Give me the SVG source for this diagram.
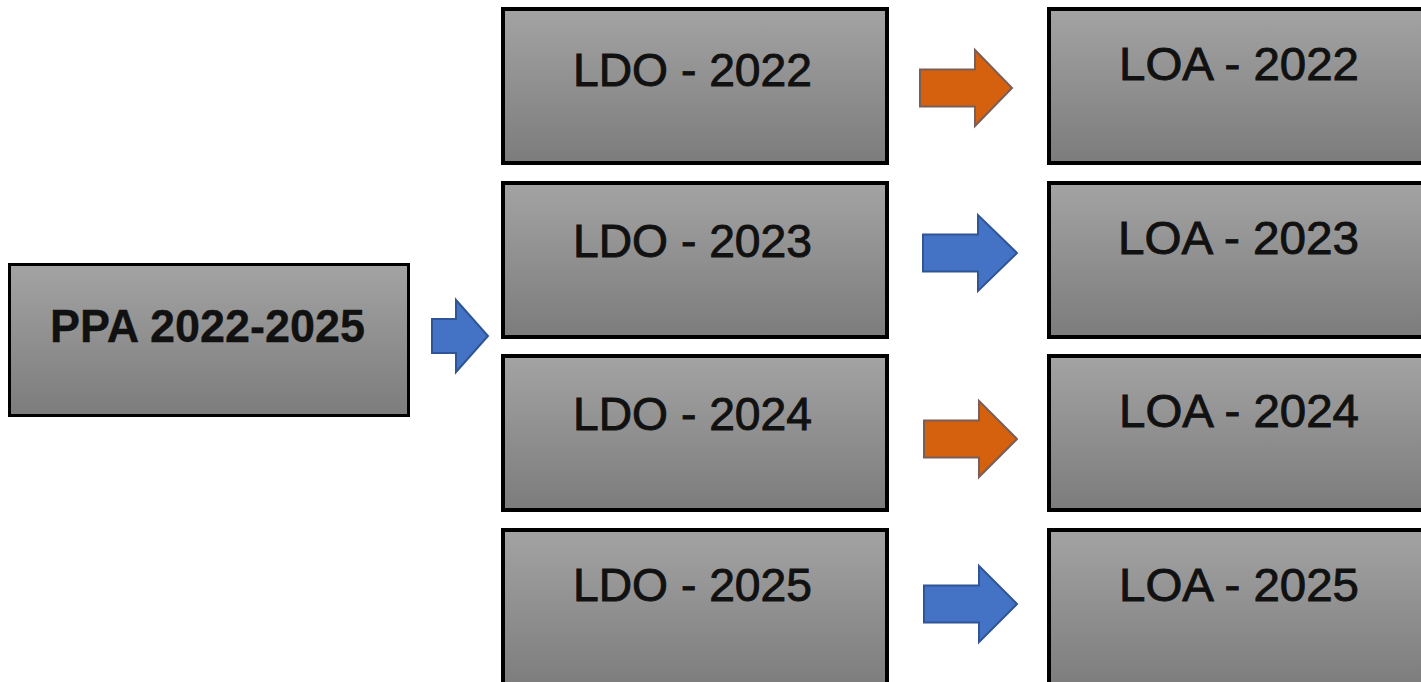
<svg xmlns="http://www.w3.org/2000/svg" width="1421" height="682" viewBox="0 0 1421 682">
  <style>
    .box { fill: url(#boxGrad); stroke: #000; stroke-width: 4; }
    .lbl { font-family: "Liberation Sans", Arial, sans-serif; font-weight: normal; font-size: 46px; fill: #111; stroke: #111; stroke-width: 0.9; }
    .blue { fill: #4472c4; stroke: #2f5597; stroke-width: 2; stroke-linejoin: miter; }
    .orange { fill: #d5600e; stroke: #7a5e58; stroke-width: 2; stroke-linejoin: miter; }
  </style>
  <defs>
    <linearGradient id="boxGrad" x1="0" y1="0" x2="0" y2="1">
      <stop offset="0" stop-color="#a3a3a3"/>
      <stop offset="1" stop-color="#7c7c7c"/>
    </linearGradient>
  </defs>
  <rect width="1421" height="682" fill="#ffffff"/>

  <g id="ppa">
    <rect class="box" x="9.5" y="264.5" width="399" height="151" style="stroke-width:3"/>
    <text class="lbl" x="50" y="342" font-size="43" style="font-weight:bold;stroke-width:0.3" textLength="315" lengthAdjust="spacingAndGlyphs">PPA 2022-2025</text>
  </g>

  <g id="ldo2022">
    <rect class="box" x="503" y="9" width="384" height="154"/>
    <text class="lbl" x="573" y="86" textLength="239" lengthAdjust="spacingAndGlyphs">LDO - 2022</text>
  </g>
  <g id="ldo2023">
    <rect class="box" x="503" y="183" width="384" height="154"/>
    <text class="lbl" x="573" y="257" textLength="239" lengthAdjust="spacingAndGlyphs">LDO - 2023</text>
  </g>
  <g id="ldo2024">
    <rect class="box" x="503" y="356" width="384" height="154"/>
    <text class="lbl" x="573" y="430" textLength="239" lengthAdjust="spacingAndGlyphs">LDO - 2024</text>
  </g>
  <g id="ldo2025">
    <rect class="box" x="503" y="530" width="384" height="160"/>
    <text class="lbl" x="573" y="601" textLength="239" lengthAdjust="spacingAndGlyphs">LDO - 2025</text>
  </g>

  <g id="loa2022">
    <rect class="box" x="1049" y="9" width="390" height="154"/>
    <text class="lbl" x="1119" y="80" textLength="240" lengthAdjust="spacingAndGlyphs">LOA - 2022</text>
  </g>
  <g id="loa2023">
    <rect class="box" x="1049" y="183" width="390" height="154"/>
    <text class="lbl" x="1118" y="254" textLength="241" lengthAdjust="spacingAndGlyphs">LOA - 2023</text>
  </g>
  <g id="loa2024">
    <rect class="box" x="1049" y="356" width="390" height="154"/>
    <text class="lbl" x="1119" y="427" textLength="240" lengthAdjust="spacingAndGlyphs">LOA - 2024</text>
  </g>
  <g id="loa2025">
    <rect class="box" x="1049" y="530" width="390" height="160"/>
    <text class="lbl" x="1119" y="601" textLength="240" lengthAdjust="spacingAndGlyphs">LOA - 2025</text>
  </g>

  <g id="connectors">
    <polygon class="blue" points="432,319 456,319 456,300 488,336 456,372 456,353 432,353"/>
    <polygon class="orange" points="920,69.5 975,69.5 975,50 1012,88 975,126 975,106.5 920,106.5"/>
    <polygon class="blue" points="923,234.5 978,234.5 978,215 1017,253 978,291 978,271.5 923,271.5"/>
    <polygon class="orange" points="924,420.5 979,420.5 979,401 1017,439 979,477 979,457.5 924,457.5"/>
    <polygon class="blue" points="924,585.5 979,585.5 979,566 1017,604 979,642 979,622.5 924,622.5"/>
  </g>
</svg>
